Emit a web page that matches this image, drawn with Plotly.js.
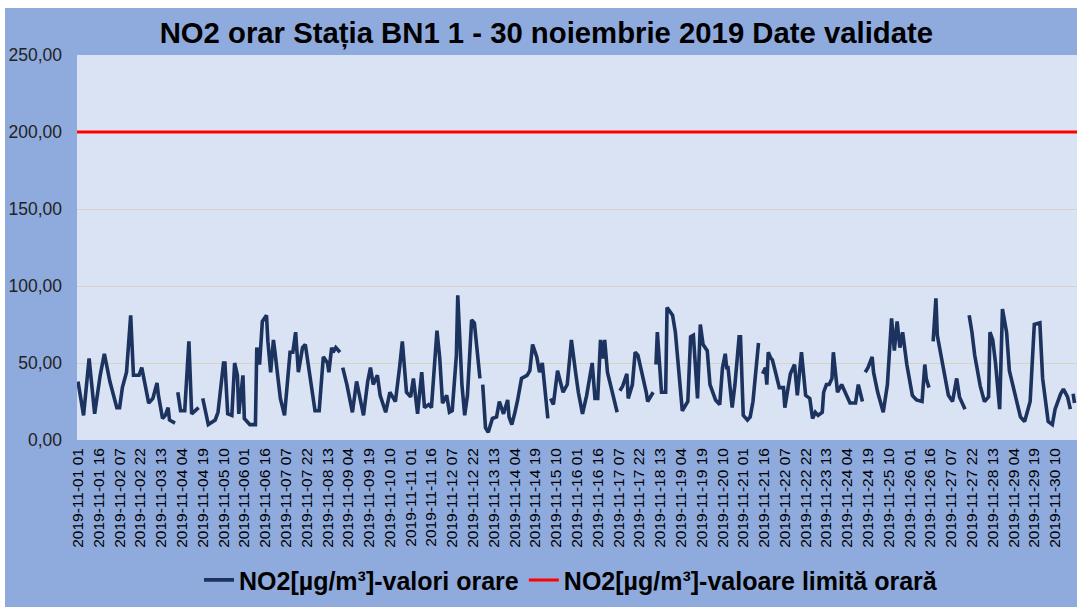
<!DOCTYPE html>
<html>
<head>
<meta charset="utf-8">
<script src="https://cdn.plot.ly/plotly-3.0.1.min.js"></script>
<style>
html,body{margin:0;padding:0;background:#ffffff;}
#chart{position:absolute;left:5px;top:8px;width:1072px;height:599px;}
</style>
</head>
<body>
<div id="chart"></div>
<script>
// Hourly NO2 readings (hours since 2019-11-01 01:00), null = missing data
const hoursSinceStart = [0,4,8,12,16,19,23,28,30,32,35,38,40,44,46,48,51,54,57,58,61,63,65,66,70,71,
72,74,77,80,82,87,89,
90,94,99,101,105,106,108,111,113,115,116,119,120,124,128,129,131,133,136,137,139,141,142,146,149,153,155,157,159,162,164,166,170,171,174,177,180,181,183,184,186,189,190,
191,194,198,201,206,209,211,213,216,218,222,225,227,229,232,234,237,240,242,245,248,250,253,255,259,261,263,266,268,270,273,274,277,279,281,284,286,288,290,291,
292,294,296,299,302,304,307,310,311,313,315,317,320,324,326,328,331,333,335,337,339,340,
341,343,346,350,353,356,359,361,364,367,371,373,375,377,379,380,382,386,389,390,
391,393,396,397,400,402,404,408,410,411,415,416,
417,418,421,424,425,429,431,433,436,440,442,444,447,449,451,454,456,460,463,465,467,468,469,472,474,477,478,480,483,485,487,491,492,
494,496,497,498,500,501,503,506,509,510,514,517,519,522,525,528,530,532,534,537,538,540,542,544,545,548,551,555,557,561,563,566,567,
568,570,573,574,577,581,584,587,589,591,593,595,598,602,605,609,611,612,614,615,
617,619,620,624,628,631,634,636,640,641,
643,645,647,651,654,657,658,660,662,664,665,667,670,672,676,680,683,687,690,694,696,700,703,705,709,711,714,716,717,
718,719];
const no2Values = [38,16,53,17,42,56,38,21,21,34,44,81,42,42,47,38,24,27,37,29,14,16,21,13,11,null,
31,19,19,64,17,21,null,
27,10,13,18,50,50,17,16,50,42,17,42,14,10,10,60,49,77,81,64,44,65,58,27,16,57,57,70,44,60,62,50,27,19,19,54,50,44,60,57,60,57,null,
47,36,18,38,16,38,47,36,42,29,18,31,28,25,47,64,31,28,40,17,44,21,23,21,71,53,24,29,18,19,55,94,36,16,29,78,76,57,40,null,
36,8,5,14,15,25,17,26,15,10,17,25,40,42,45,62,54,44,50,29,14,null,
27,23,45,31,36,65,44,31,17,29,50,27,27,65,53,65,44,29,18,null,
32,35,43,27,36,57,55,40,31,25,31,null,
49,70,31,31,86,81,70,47,19,25,67,68,27,75,62,58,36,26,23,47,56,47,47,21,36,67,67,16,13,15,25,63,null,
43,47,36,57,53,52,45,34,34,21,43,49,29,57,29,27,14,18,16,18,31,36,36,40,57,31,36,27,24,24,36,25,null,
44,47,54,44,31,18,36,79,58,77,60,70,49,29,26,25,49,40,34,null,
64,92,68,47,29,25,40,28,20,null,
81,70,55,35,25,28,70,65,50,30,20,85,70,45,30,15,12,25,75,76,40,12,10,20,30,33,28,20,null,
30,24];
const limitValue = 200;
const seriesNames = ['NO2[µg/m³]-valori orare', 'NO2[µg/m³]-valoare limită orară'];
const titleText = 'NO2 orar Stația BN1 1 - 30 noiembrie 2019 Date validate';
const startTime = Date.UTC(2019, 10, 1, 1, 0, 0);
const totalHours = 720;

function fmt(ms){
  const d = new Date(ms);
  const p = n => String(n).padStart(2,'0');
  return d.getUTCFullYear()+'-'+p(d.getUTCMonth()+1)+'-'+p(d.getUTCDate())+' '+p(d.getUTCHours())+':'+p(d.getUTCMinutes());
}
const HOUR = 3600000;
const xDates = hoursSinceStart.map(h => fmt(startTime + h*HOUR));

const traces = [
  {x: xDates, y: no2Values, type:'scatter', mode:'lines', name: seriesNames[0],
   line:{color:'#1c335f', width:3.6}, connectgaps:false},
  {x: [fmt(startTime - HOUR), fmt(startTime + (totalHours+1)*HOUR)], y:[limitValue, limitValue], type:'scatter', mode:'lines',
   name: seriesNames[1], line:{color:'#ff0000', width:3}}
];

const layout = {
  width:1072, height:599,
  paper_bgcolor:'#8faadc', plot_bgcolor:'#dae3f3',
  separators: ',.',
  margin:{l:72, r:0, t:47, b:167},
  font:{family:'Liberation Sans, Arial, sans-serif', color:'#000'},
  title:{text:'<b>'+titleText+'</b>', font:{size:29.3, color:'#000'}, x:0.505, xanchor:'center', y:0.958, yanchor:'middle'},
  xaxis:{type:'date', range:[fmt(startTime - 0.72*HOUR), fmt(startTime + 720.8*HOUR)],
    tick0: fmt(startTime), dtick: 15*HOUR, tickformat:'%Y-%m-%d %H', tickangle:-90,
    tickfont:{size:15.5, color:'#000'}, showgrid:false, zeroline:false, showline:false, ticks:'', ticklabelstandoff:4},
  yaxis:{range:[0,250], dtick:50, tickformat:'.2f', tickfont:{size:17.5, color:'#222'},
    gridcolor:'#d8d2c4', gridwidth:1, zeroline:false, showline:false, ticks:'', ticklabelstandoff:14},
  showlegend:true,
  legend:{orientation:'h', x:0.494, xanchor:'center', y:-0.364, yanchor:'middle',
    font:{size:25, color:'#000', weight:'bold'}, bgcolor:'rgba(0,0,0,0)', itemwidth:30, tracegroupgap:0}
};

Plotly.newPlot('chart', traces, layout, {displayModeBar:false, staticPlot:true});
</script>
</body>
</html>
